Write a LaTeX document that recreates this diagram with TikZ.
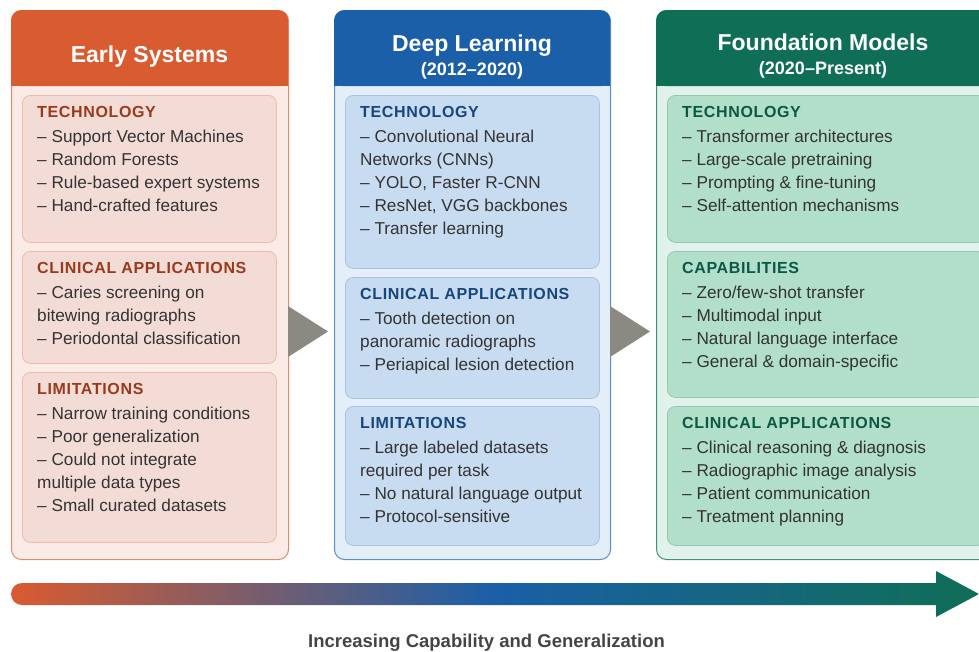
\documentclass[tikz,border=0pt]{standalone}
\usepackage{fontspec}
\setmainfont{Liberation Sans}
\newfontfamily\capsfont[LetterSpace=4]{Liberation Sans}
\usetikzlibrary{positioning}

% Farben der drei Phasen
\definecolor{earlyHead}{HTML}{D95B30}
\definecolor{earlyBody}{HTML}{FAEBE6}
\definecolor{earlyLine}{HTML}{E38A6C}
\definecolor{earlyBox}{HTML}{F4DCD6}
\definecolor{earlyBoxLine}{HTML}{F0BBA9}
\definecolor{earlyTitle}{HTML}{9A3A1C}
\definecolor{deepHead}{HTML}{1A5FA8}
\definecolor{deepBody}{HTML}{E4EEF9}
\definecolor{deepLine}{HTML}{5A8ECB}
\definecolor{deepBox}{HTML}{C8DCF1}
\definecolor{deepBoxLine}{HTML}{A6C3E5}
\definecolor{deepTitle}{HTML}{17457E}
\definecolor{foundHead}{HTML}{0F6E56}
\definecolor{foundBody}{HTML}{E1F2EC}
\definecolor{foundLine}{HTML}{3F9479}
\definecolor{foundBox}{HTML}{B2DFCA}
\definecolor{foundBoxLine}{HTML}{92C9B1}
\definecolor{foundTitle}{HTML}{0D5843}
\definecolor{bodytext}{HTML}{333333}
\definecolor{stepgray}{HTML}{8B8A82}
\definecolor{labelgray}{HTML}{444444}

\pgfdeclarehorizontalshading{timeline}{100bp}{color(0bp)=(earlyHead); color(25bp)=(earlyHead); color(50bp)=(deepHead); color(75bp)=(foundHead); color(100bp)=(foundHead)}

\begin{document}
\begin{tikzpicture}[x=1pt, y=-1pt,
	column/.style={draw, line width=1pt, rounded corners=10pt, anchor=north west, minimum height=549pt, inner sep=0pt},
	header/.style={rounded corners=10pt, anchor=north west, minimum height=76pt, inner sep=0pt},
	headtext/.style={anchor=base, inner sep=0pt, text=white, font=\bfseries\fontsize{23}{28}\selectfont},
	subtext/.style={anchor=base, inner sep=0pt, text=white, font=\bfseries\fontsize{18}{22}\selectfont},
	secbox/.style={draw, line width=0.8pt, rounded corners=8pt, anchor=north west, inner sep=0pt},
	sectitle/.style={anchor=base west, inner sep=0pt, font=\capsfont\bfseries\fontsize{16}{19}\selectfont},
	item/.style={anchor=base west, inner sep=0pt, text=bodytext, font=\fontsize{17.2}{20}\selectfont}]
	
	\useasboundingbox (0,0) rectangle (979,651);
	
	% Spalten
	\node[column, fill=earlyBody, draw=earlyLine, minimum width=277pt] (early) at (11,10) {};
	\node[column, fill=deepBody, draw=deepLine, minimum width=276pt] (deep) at (334,10) {};
	\node[column, fill=foundBody, draw=foundLine, minimum width=334pt] (found) at (656,10) {};
	
	% Kopfzeilen
	\node[header, fill=earlyHead, minimum width=277pt] (earlyhd) at (11,10) {};
	\fill[earlyHead] (earlyhd.west) rectangle (earlyhd.south east);
	\node[header, fill=deepHead, minimum width=276pt] (deephd) at (334,10) {};
	\fill[deepHead] (deephd.west) rectangle (deephd.south east);
	\node[header, fill=foundHead, minimum width=334pt] (foundhd) at (656,10) {};
	\fill[foundHead] (foundhd.west) rectangle (foundhd.south east);
	
	\node[headtext] (earlyname) at (149.5,62) {Early Systems};
	\node[headtext] (deepname) at (472,51) {Deep Learning};
	\node[subtext] (deepyears) at (472,75) {(2012–2020)};
	\node[headtext] (foundname) at (823,50) {Foundation Models};
	\node[subtext] (foundyears) at (823,74) {(2020–Present)};
	
	% Early Systems
	\node[secbox, fill=earlyBox, draw=earlyBoxLine, minimum width=254pt, minimum height=147pt] (techA) at (22,95) {};
	\node[sectitle, text=earlyTitle] (techAt) at ([shift={(15,22)}]techA.north west) {TECHNOLOGY};
	\foreach \t [count=\i] in {– Support Vector Machines, – Random Forests, – Rule-based expert systems, – Hand-crafted features}
		\node[item] (techA-\i) at ([shift={(0,{2+23*\i})}]techAt.base west) {\t};
	
	\node[secbox, fill=earlyBox, draw=earlyBoxLine, minimum width=254pt, minimum height=112pt] (clinA) at (22,251) {};
	\node[sectitle, text=earlyTitle] (clinAt) at ([shift={(15,22)}]clinA.north west) {CLINICAL APPLICATIONS};
	\foreach \t [count=\i] in {– Caries screening on, bitewing radiographs, – Periodontal classification}
		\node[item] (clinA-\i) at ([shift={(0,{2+23*\i})}]clinAt.base west) {\t};
	
	\node[secbox, fill=earlyBox, draw=earlyBoxLine, minimum width=254pt, minimum height=170pt] (limA) at (22,372) {};
	\node[sectitle, text=earlyTitle] (limAt) at ([shift={(15,22)}]limA.north west) {LIMITATIONS};
	\foreach \t [count=\i] in {– Narrow training conditions, – Poor generalization, – Could not integrate, multiple data types, – Small curated datasets}
		\node[item] (limA-\i) at ([shift={(0,{2+23*\i})}]limAt.base west) {\t};
	
	% Deep Learning
	\node[secbox, fill=deepBox, draw=deepBoxLine, minimum width=254pt, minimum height=173pt] (techB) at (345,95) {};
	\node[sectitle, text=deepTitle] (techBt) at ([shift={(15,22)}]techB.north west) {TECHNOLOGY};
	\foreach \t [count=\i] in {– Convolutional Neural, Networks (CNNs), {– YOLO, Faster R-CNN}, {– ResNet, VGG backbones}, – Transfer learning}
		\node[item] (techB-\i) at ([shift={(0,{2+23*\i})}]techBt.base west) {\t};
	
	\node[secbox, fill=deepBox, draw=deepBoxLine, minimum width=254pt, minimum height=121pt] (clinB) at (345,277) {};
	\node[sectitle, text=deepTitle] (clinBt) at ([shift={(15,22)}]clinB.north west) {CLINICAL APPLICATIONS};
	\foreach \t [count=\i] in {– Tooth detection on, panoramic radiographs, – Periapical lesion detection}
		\node[item] (clinB-\i) at ([shift={(0,{2+23*\i})}]clinBt.base west) {\t};
	
	\node[secbox, fill=deepBox, draw=deepBoxLine, minimum width=254pt, minimum height=139pt] (limB) at (345,406) {};
	\node[sectitle, text=deepTitle] (limBt) at ([shift={(15,22)}]limB.north west) {LIMITATIONS};
	\foreach \t [count=\i] in {– Large labeled datasets, required per task, – No natural language output, – Protocol-sensitive}
		\node[item] (limB-\i) at ([shift={(0,{2+23*\i})}]limBt.base west) {\t};
	
	% Foundation Models
	\node[secbox, fill=foundBox, draw=foundBoxLine, minimum width=318pt, minimum height=147pt] (techC) at (667,95) {};
	\node[sectitle, text=foundTitle] (techCt) at ([shift={(15,22)}]techC.north west) {TECHNOLOGY};
	\foreach \t [count=\i] in {– Transformer architectures, – Large-scale pretraining, – Prompting \& fine-tuning, – Self-attention mechanisms}
		\node[item] (techC-\i) at ([shift={(0,{2+23*\i})}]techCt.base west) {\t};
	
	\node[secbox, fill=foundBox, draw=foundBoxLine, minimum width=318pt, minimum height=146pt] (capC) at (667,251) {};
	\node[sectitle, text=foundTitle] (capCt) at ([shift={(15,22)}]capC.north west) {CAPABILITIES};
	\foreach \t [count=\i] in {– Zero/few-shot transfer, – Multimodal input, – Natural language interface, – General \& domain-specific}
		\node[item] (capC-\i) at ([shift={(0,{2+23*\i})}]capCt.base west) {\t};
	
	\node[secbox, fill=foundBox, draw=foundBoxLine, minimum width=318pt, minimum height=139pt] (clinC) at (667,406) {};
	\node[sectitle, text=foundTitle] (clinCt) at ([shift={(15,22)}]clinC.north west) {CLINICAL APPLICATIONS};
	\foreach \t [count=\i] in {– Clinical reasoning \& diagnosis, – Radiographic image analysis, – Patient communication, – Treatment planning}
		\node[item] (clinC-\i) at ([shift={(0,{2+23*\i})}]clinCt.base west) {\t};
	
	% Pfeile zwischen den Spalten
	\fill[stepgray] (288,306) -- (328,331.5) -- (288,357) -- cycle;
	\fill[stepgray] (610,306) -- (650,331.5) -- (610,357) -- cycle;
	
	% Zeitachse
	\shade[shading=timeline] (22,583) -- (936,583) -- (936,571) -- (979,594) -- (936,617) -- (936,605) -- (22,605) arc[start angle=270, end angle=90, radius=11pt] -- cycle;
	\node[anchor=base, inner sep=0pt, text=labelgray, font=\bfseries\fontsize{18.5}{22}\selectfont] (axislabel) at (486.5,647) {Increasing Capability and Generalization};
\end{tikzpicture}
\end{document}
